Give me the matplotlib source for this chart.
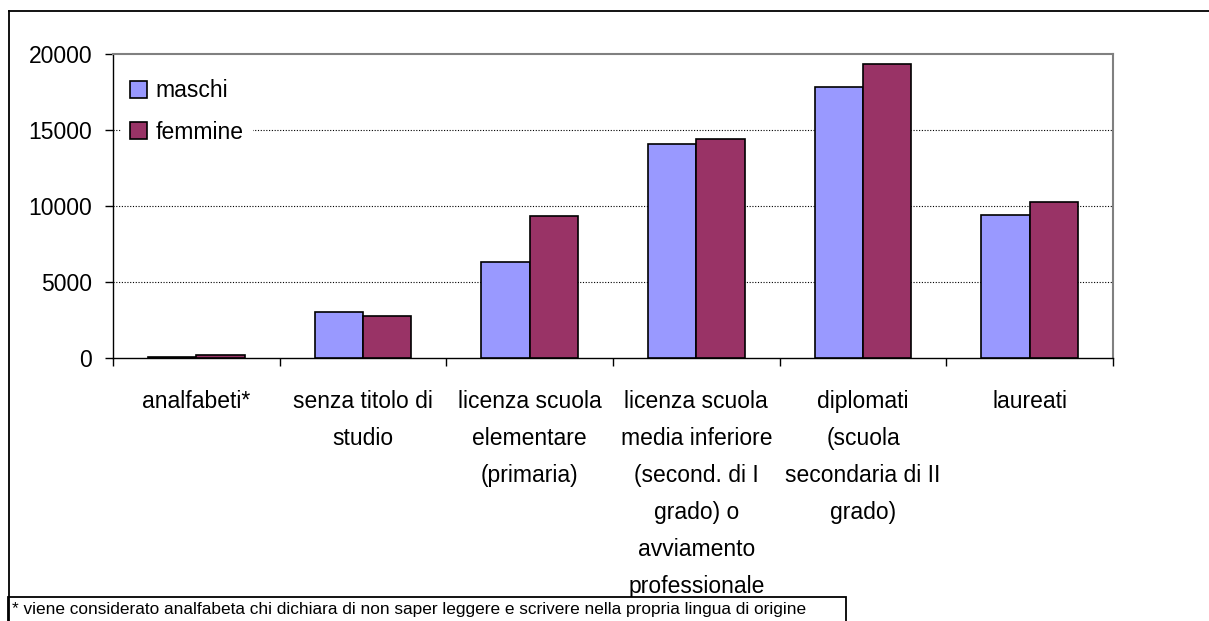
import numpy as np
import matplotlib.pyplot as plt
from matplotlib.patches import Rectangle
from matplotlib.lines import Line2D

plt.rcParams['font.family'] = ['Liberation Sans', 'DejaVu Sans']

categories = ['analfabeti*',
              'senza titolo di\nstudio',
              'licenza scuola\nelementare\n(primaria)',
              'licenza scuola\nmedia inferiore\n(second. di I\ngrado) o\navviamento\nprofessionale',
              'diplomati\n(scuola\nsecondaria di II\ngrado)',
              'laureati']
maschi = [100, 3030, 6300, 14080, 17850, 9450]
femmine = [220, 2800, 9340, 14410, 19340, 10260]
series_names = ['maschi', 'femmine']
colors = ['#9999FF', '#993366']
yticks = [0, 5000, 10000, 15000, 20000]
footnote = '* viene considerato analfabeta chi dichiara di non saper leggere e scrivere nella propria lingua di origine'

W, H = 1209, 621
fig = plt.figure(figsize=(W / 100, H / 100), dpi=100)
ax = fig.add_axes([113 / W, 1 - 358.3 / H, 1000 / W, (358.3 - 54) / H])

x = np.arange(len(categories))
bw = 0.29
ax.bar(x - bw / 2, maschi, width=bw, color=colors[0], edgecolor='black', lw=1.2,
       label=series_names[0], zorder=3)
ax.bar(x + bw / 2, femmine, width=bw, color=colors[1], edgecolor='black', lw=1.2,
       label=series_names[1], zorder=3)

ax.set_xlim(-0.5, len(categories) - 0.5)
ax.set_ylim(0, 20000)
ax.set_yticks(yticks)
ax.set_yticklabels([str(v) for v in yticks], fontsize=16.5)
for v in yticks[1:-1]:
    ax.axhline(v, color='black', lw=0.8, ls=(0, (1, 1.5)), zorder=1)

# category boundaries as ticks, labels at centres
ax.set_xticks(np.arange(-0.5, len(categories), 1.0))
ax.set_xticklabels([])
ax.set_xticks(x, minor=True)
ax.set_xticklabels(categories, minor=True, fontsize=16.5, linespacing=1.77, va='top')
ax.tick_params(axis='x', which='major', direction='out', length=6, width=1)
ax.tick_params(axis='x', which='minor', length=0, pad=23)
ax.tick_params(axis='y', direction='out', length=6, width=1, pad=9)

for s in ['left', 'bottom']:
    ax.spines[s].set_color('black')
    ax.spines[s].set_linewidth(1)
for s in ['top', 'right']:
    ax.spines[s].set_color('#808080')
    ax.spines[s].set_linewidth(1.5)

leg = ax.legend(loc='upper left', bbox_to_anchor=(0.008, 0.947), frameon=True, fontsize=16.5,
                handlelength=0.75, handleheight=0.75, handletextpad=0.35, labelspacing=0.81,
                borderaxespad=0, fancybox=False, framealpha=1)
leg.get_frame().set_facecolor('white')
leg.get_frame().set_edgecolor('none')
leg.set_zorder(5)

# outer chart frame
fig.add_artist(Line2D([9 / W, 9 / W], [0, 1 - 11 / H], transform=fig.transFigure,
                      color='black', lw=1.3))
fig.add_artist(Line2D([9 / W, 1], [1 - 11 / H, 1 - 11 / H], transform=fig.transFigure,
                      color='black', lw=1.3))

# footnote box
fig.add_artist(Rectangle((8 / W, -0.01), (846 - 8) / W, 0.01 + (621 - 597) / H,
                         transform=fig.transFigure, fill=True, facecolor='white',
                         edgecolor='black', lw=1.3))
fig.text(12 / W, 1 - 614 / H, footnote, fontsize=12.4, va='baseline', ha='left')

fig.savefig('out.png', dpi=100)
